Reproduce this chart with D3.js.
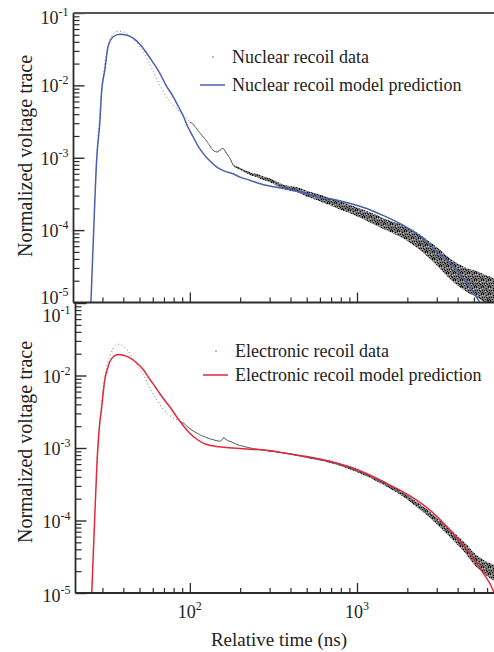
<!DOCTYPE html>
<html>
<head>
<meta charset="utf-8">
<script src="https://cdn.jsdelivr.net/npm/d3@7"></script>
<style>
  html, body { margin: 0; padding: 0; background: #fff; }
  svg { display: block; }
  svg text { font-family: "Liberation Serif", "DejaVu Serif", serif; }
</style>
</head>
<body>
<svg id="chart" width="494" height="652"></svg>
<script>
// ---------- Nuclear recoil (upper panel) ----------
const nrModelTime = [25.6,26.5,27.7,29.0,29.6,31.0,32.4,34.8,38.2,41,45.8,50.3,55.1,60,66.2,72,79.5,85,91.2,97,104.6,112,120.1,132,144.4,160,181.5,200,228,270,330,396,480,572,753,991,1200,1429,1884,2483,3120,3927,4718,5174,5600];
const nrModelValue = [1e-5,8e-5,9.3e-4,3.3e-3,7.7e-3,1.63e-2,3.4e-2,4.7e-2,5.1e-2,5.0e-2,4.5e-2,3.7e-2,2.8e-2,2.1e-2,1.47e-2,1.0e-2,7.0e-3,5.2e-3,3.8e-3,2.7e-3,1.95e-3,1.45e-3,1.15e-3,9.0e-4,7.5e-4,6.6e-4,6.0e-4,5.4e-4,4.9e-4,4.3e-4,3.9e-4,3.65e-4,3.25e-4,2.9e-4,2.6e-4,2.2e-4,1.9e-4,1.6e-4,1.17e-4,7.7e-5,4.7e-5,2.9e-5,1.64e-5,1.19e-5,9e-6];

// sparse early samples of the measured trace
const nrDotTime = [27.2,28.0,28.8,29.6,30.5,31.5,32.6,33.8,35.0,36.3,37.6,39.0,40.5,42.0,43.6,45.2,46.9,48.6,50.4,52.3,54.2,56.2,58.3,60.5,62.7,65.0,67.5,70.0,72.6,75.3,78.1,81.0,84.0,87.1,90.3,93.6,97.1,100];
const nrDotValue = [4e-4,1.5e-3,3.5e-3,8e-3,1.5e-2,2.6e-2,3.7e-2,4.6e-2,5.2e-2,5.5e-2,5.6e-2,5.6e-2,5.4e-2,5.2e-2,4.9e-2,4.6e-2,4.2e-2,3.8e-2,3.4e-2,3.0e-2,2.6e-2,2.2e-2,1.85e-2,1.55e-2,1.3e-2,1.08e-2,9.2e-3,7.9e-3,6.9e-3,6.2e-3,5.6e-3,5.1e-3,4.7e-3,4.3e-3,4.0e-3,3.7e-3,3.4e-3,3.1e-3];

// dense trace: centre value and scatter half-width (decades)
const nrTraceTime = [100,104.6,110,115,120,126,132,137.8,142,146,150,155,158,162,167,173,177,181.5,190,200,208,220,235,250,270,300,330,361,400,434,500,572,650,753,860,991,1200,1429,1650,1884,2150,2483,2800,3120,3500,3927,4300,4718,5200,5700,6200,6600];
const nrTraceValue = [3.1e-3,2.9e-3,2.5e-3,2.2e-3,1.95e-3,1.7e-3,1.45e-3,1.27e-3,1.22e-3,1.2e-3,1.25e-3,1.33e-3,1.35e-3,1.25e-3,1.12e-3,1.0e-3,9.0e-4,8.0e-4,7.4e-4,7.0e-4,6.7e-4,6.3e-4,5.9e-4,5.7e-4,5.3e-4,4.9e-4,4.4e-4,4.0e-4,3.75e-4,3.65e-4,3.2e-4,2.9e-4,2.6e-4,2.3e-4,2.05e-4,1.8e-4,1.5e-4,1.24e-4,1.08e-4,9.5e-5,8.0e-5,6.3e-5,5.0e-5,4.0e-5,3.1e-5,2.5e-5,2.2e-5,1.95e-5,1.8e-5,1.6e-5,1.45e-5,1.35e-5];
const nrTraceSpread = [0.004,0.004,0.004,0.004,0.004,0.004,0.004,0.005,0.005,0.005,0.005,0.005,0.005,0.006,0.006,0.008,0.008,0.01,0.012,0.014,0.016,0.018,0.02,0.022,0.024,0.026,0.028,0.03,0.032,0.035,0.04,0.045,0.05,0.055,0.058,0.06,0.07,0.075,0.08,0.09,0.1,0.11,0.12,0.13,0.14,0.15,0.16,0.17,0.18,0.19,0.2,0.2];

// ---------- Electronic recoil (lower panel) ----------
const erModelTime = [25.9,26.9,27.9,28.8,29.6,31.0,32.2,33.3,35.2,37.3,40,43.8,48,52.6,57.7,62,66.2,72,75.9,83.3,92,100,110,125.8,150,181.5,230,287,360,454,626,903,1137,1565,2064,2849,3581,4512,5676,6500,6700];
const erModelValue = [1e-5,9.4e-5,6.9e-4,2.0e-3,3.4e-3,8.8e-3,1.25e-2,1.57e-2,1.85e-2,1.95e-2,1.9e-2,1.75e-2,1.5e-2,1.21e-2,8.8e-3,7.0e-3,5.6e-3,4.3e-3,3.7e-3,2.7e-3,2.0e-3,1.6e-3,1.32e-3,1.12e-3,1.04e-3,1.0e-3,9.6e-4,9.3e-4,8.6e-4,7.9e-4,6.9e-4,5.5e-4,4.45e-4,3.1e-4,2.2e-4,1.28e-4,7.5e-5,4.0e-5,1.9e-5,1.1e-5,9e-6];

const erDotTime = [27.5,28.3,29.2,30.1,31.1,32.2,33.4,34.6,35.9,37.3,38.7,40.2,41.8,43.4,45.0,46.7,48.5,50.4,52.3,54.3,56.4,58.6,60.9,63.2,65.7,68.2,70.8,73.5,76.4,79.3,82.4,85.6,88.9];
const erDotValue = [4e-4,1.2e-3,3e-3,6e-3,1.0e-2,1.5e-2,1.9e-2,2.3e-2,2.6e-2,2.7e-2,2.65e-2,2.5e-2,2.3e-2,2.1e-2,1.85e-2,1.6e-2,1.4e-2,1.22e-2,1.05e-2,9.0e-3,7.4e-3,6.3e-3,5.4e-3,4.7e-3,4.1e-3,3.6e-3,3.25e-3,2.95e-3,2.75e-3,2.6e-3,2.5e-3,2.4e-3,2.3e-3];

const erTraceTime = [88.9,91.2,96,100,104.6,109.7,116,124,131.7,140,151,156,159.6,164,168,173.3,185,195,208,230,262,300,361,420,476,550,626,750,903,1080,1300,1550,1884,2250,2719,3100,3581,4000,4512,5000,5676,6100,6600];
const erTraceValue = [2.3e-3,2.23e-3,2.0e-3,1.85e-3,1.72e-3,1.62e-3,1.5e-3,1.42e-3,1.34e-3,1.29e-3,1.24e-3,1.3e-3,1.38e-3,1.32e-3,1.27e-3,1.24e-3,1.16e-3,1.1e-3,1.06e-3,1.0e-3,9.5e-4,9.1e-4,8.6e-4,8.1e-4,7.6e-4,7.2e-4,6.8e-4,6.1e-4,5.3e-4,4.5e-4,3.7e-4,3.0e-4,2.3e-4,1.7e-4,1.21e-4,9.2e-5,6.8e-5,5.3e-5,4.0e-5,3.0e-5,2.34e-5,2.1e-5,1.9e-5];
const erTraceSpread = [0.004,0.004,0.004,0.004,0.004,0.004,0.004,0.004,0.004,0.004,0.004,0.004,0.004,0.004,0.004,0.004,0.004,0.004,0.004,0.005,0.006,0.007,0.008,0.009,0.01,0.011,0.012,0.014,0.017,0.02,0.024,0.028,0.032,0.036,0.042,0.048,0.055,0.062,0.07,0.08,0.09,0.1,0.11];

// ---------- axes ----------
const xMajorTicks = [100, 1000];
const xMajorExp = ["2", "3"];
const xMinorTicks = [30,40,50,60,70,80,90,200,300,400,500,600,700,800,900,2000,3000,4000,5000,6000];
const yMajorTicks = [1e-1, 1e-2, 1e-3, 1e-4, 1e-5];
const yMajorExp = ["-1", "-2", "-3", "-4", "-5"];
const yMinorMantissa = [2,3,4,5,6,7,8,9];

const legendNR = ["Nuclear recoil data", "Nuclear recoil model prediction"];
const legendER = ["Electronic recoil data", "Electronic recoil model prediction"];
const xTitle = "Relative time (ns)";
const yTitle = "Normalized voltage trace";

// ---------- drawing ----------
const svg = d3.select("#chart");
const W = 494;
const axisColor = "#2b2b2b";
const textColor = "#222";

const x = d3.scaleLog().domain([20, 6600]).range([73, 494]);

// fuzzy fill used for the scatter of the measured trace
const defs = svg.append("defs");
const pat = defs.append("pattern")
  .attr("id", "speckle").attr("patternUnits", "userSpaceOnUse")
  .attr("width", 7).attr("height", 7);
pat.append("rect").attr("width", 7).attr("height", 7).attr("fill", "rgba(35,35,35,0.62)");
[[0,0],[3,1],[5,0],[1,3],[6,3],[4,4],[2,5],[0,6],[5,6],[3,3],[6,5]].forEach(([a, b]) =>
  pat.append("rect").attr("x", a).attr("y", b).attr("width", 1).attr("height", 1).attr("fill", "#000"));
[[1,1],[4,2],[2,4],[6,1]].forEach(([a, b]) =>
  pat.append("rect").attr("x", a).attr("y", b).attr("width", 1).attr("height", 1).attr("fill", "rgba(255,255,255,0.5)"));

function zip(t, v, s) { return t.map((d, i) => ({ t: d, v: v[i], s: s ? s[i] : 0 })); }

function drawPanel(p) {
  const y = d3.scaleLog().domain([1e-5, 1e-1]).range([p.bottom, p.top]);
  const g = svg.append("g");

  defs.append("clipPath").attr("id", p.id + "-clip")
    .append("rect").attr("x", p.left).attr("y", p.top)
    .attr("width", W - p.left).attr("height", p.bottom - p.top);
  const plot = g.append("g").attr("clip-path", `url(#${p.id}-clip)`);

  const trace = zip(p.traceT, p.traceV, p.traceS);
  const band = d3.area()
    .x(d => x(d.t))
    .y0(d => y(d.v * Math.pow(10, -d.s)))
    .y1(d => y(d.v * Math.pow(10, d.s)))
    .curve(d3.curveMonotoneX);
  plot.append("path").datum(trace).attr("d", band).attr("fill", "url(#speckle)");

  const line = d3.line().x(d => x(d.t)).y(d => y(d.v)).curve(d3.curveMonotoneX);
  plot.append("path").datum(trace).attr("d", line)
    .attr("fill", "none").attr("stroke", "#5a5a5a").attr("stroke-width", 0.75);

  plot.append("path").datum(zip(p.dotT, p.dotV)).attr("d", line)
    .attr("fill", "none").attr("stroke", "#7a7a7a").attr("stroke-width", 1)
    .attr("stroke-dasharray", "1 2.6");

  plot.append("path").datum(zip(p.modelT, p.modelV)).attr("d", line)
    .attr("fill", "none").attr("stroke", p.color).attr("stroke-width", 1.5);

  // left axis with inward ticks
  const yMinor = [];
  yMajorTicks.slice(1).forEach(dec => yMinorMantissa.forEach(m => yMinor.push(dec * m)));
  g.append("g").attr("transform", `translate(${p.left},0)`)
    .call(d3.axisLeft(y).tickValues(yMinor).tickSize(-6).tickFormat(""))
    .call(a => a.select(".domain").remove())
    .call(a => a.selectAll("line").attr("stroke", axisColor).attr("stroke-width", 1.2));
  g.append("g").attr("transform", `translate(${p.left},0)`)
    .call(d3.axisLeft(y).tickValues(yMajorTicks).tickSize(-11).tickFormat(""))
    .call(a => a.select(".domain").remove())
    .call(a => a.selectAll("line").attr("stroke", axisColor).attr("stroke-width", 1.4));

  yMajorTicks.forEach((v, i) => {
    const dy = (p.labelShift && p.labelShift[i] !== undefined) ? p.labelShift[i] : 8;
    const t = g.append("text").attr("x", p.left - 5).attr("y", y(v) + dy)
      .attr("text-anchor", "end").attr("font-size", 18).attr("fill", textColor);
    t.append("tspan").text("10");
    t.append("tspan").attr("dy", -8).attr("font-size", 12).text(yMajorExp[i]);
  });

  // bottom axis with inward ticks
  g.append("g").attr("transform", `translate(0,${p.bottom})`)
    .call(d3.axisBottom(x).tickValues(xMinorTicks).tickSize(-5).tickFormat(""))
    .call(a => a.select(".domain").remove())
    .call(a => a.selectAll("line").attr("stroke", axisColor).attr("stroke-width", 1.2));
  g.append("g").attr("transform", `translate(0,${p.bottom})`)
    .call(d3.axisBottom(x).tickValues(xMajorTicks).tickSize(-10).tickFormat(""))
    .call(a => a.select(".domain").remove())
    .call(a => a.selectAll("line").attr("stroke", axisColor).attr("stroke-width", 1.3));

  g.append("line").attr("x1", p.left).attr("x2", W).attr("y1", p.bottom).attr("y2", p.bottom)
    .attr("stroke", axisColor).attr("stroke-width", 1.8);
  g.append("line").attr("x1", p.left).attr("x2", p.left).attr("y1", p.top).attr("y2", p.bottom)
    .attr("stroke", axisColor).attr("stroke-width", 1.8);
  if (p.frameTop) {
    g.append("line").attr("x1", p.left).attr("x2", W).attr("y1", p.top).attr("y2", p.top)
      .attr("stroke", "#555").attr("stroke-width", 1.8);
  }

  // legend
  const L = p.legend;
  g.append("circle").attr("cx", L.x + 13).attr("cy", L.y1 - 6).attr("r", 0.8).attr("fill", "#666");
  g.append("text").attr("x", L.x + 32).attr("y", L.y1).attr("font-size", 18).attr("fill", textColor).text(L.labels[0]);
  g.append("line").attr("x1", L.x).attr("x2", L.x + 25).attr("y1", L.y2 - 6).attr("y2", L.y2 - 6)
    .attr("stroke", p.color).attr("stroke-width", 1.5);
  g.append("text").attr("x", L.x + 32).attr("y", L.y2).attr("font-size", 18).attr("fill", textColor).text(L.labels[1]);

  // y title
  g.append("text")
    .attr("transform", `translate(32,${p.titleY}) rotate(-90)`)
    .attr("text-anchor", "middle").attr("font-size", 20).attr("fill", textColor)
    .text(yTitle);

  return y;
}

drawPanel({
  id: "nr", left: 73.5, top: 13, bottom: 302.5, color: "#4c5fae", frameTop: true,
  modelT: nrModelTime, modelV: nrModelValue,
  dotT: nrDotTime, dotV: nrDotValue,
  traceT: nrTraceTime, traceV: nrTraceValue, traceS: nrTraceSpread,
  legend: { x: 200, y1: 63, y2: 91, labels: legendNR },
  labelShift: [11, 7, 7, 7, 1],
  titleY: 156
});

drawPanel({
  id: "er", left: 75.5, top: 303, bottom: 593, color: "#e2283c", frameTop: false,
  modelT: erModelTime, modelV: erModelValue,
  dotT: erDotTime, dotV: erDotValue,
  traceT: erTraceTime, traceV: erTraceValue, traceS: erTraceSpread,
  legend: { x: 203, y1: 357, y2: 381, labels: legendER },
  labelShift: [19, 7, 7, 7, 9],
  titleY: 442
});

// x tick labels and title (lower panel only)
xMajorTicks.forEach((v, i) => {
  const t = svg.append("text").attr("x", x(v)).attr("y", 618)
    .attr("text-anchor", "middle").attr("font-size", 18).attr("fill", textColor);
  t.append("tspan").text("10");
  t.append("tspan").attr("dy", -8).attr("font-size", 12).text(xMajorExp[i]);
});
svg.append("text").attr("x", 279).attr("y", 646).attr("text-anchor", "middle")
  .attr("font-size", 19).attr("fill", textColor).text(xTitle);
</script>
</body>
</html>
